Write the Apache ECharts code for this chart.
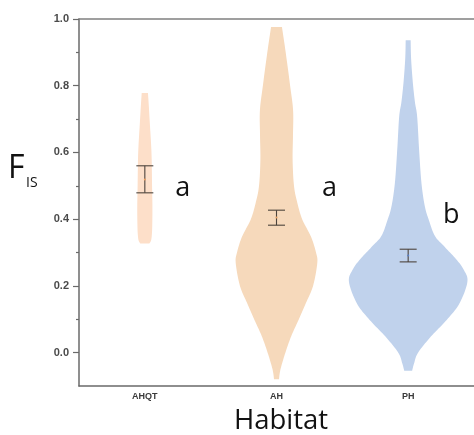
<!DOCTYPE html>
<html><head><meta charset="utf-8">
<script src="https://cdn.jsdelivr.net/npm/echarts@6/dist/echarts.min.js"></script>
<style>html,body{margin:0;padding:0;background:#fff}#c{width:474px;height:435px}</style>
</head><body><div id="c"></div>
<script>
// ---- data ----
const categories = ['AHQT', 'AH', 'PH'];
const yTickValues = [0.0, 0.2, 0.4, 0.6, 0.8, 1.0];
const yMinorTickValues = [0.1, 0.3, 0.5, 0.7, 0.9];
// violin profiles: [F_IS value, relative density]
const densityAHQT = [[0.778,0.053],[0.74,0.067],[0.70,0.08],[0.60,0.112],[0.50,0.122],[0.437,0.128],[0.38,0.125],[0.35,0.117],[0.335,0.103],[0.327,0.075]];
const densityAH = [[0.976,0.092],[0.90,0.155],[0.80,0.23],[0.726,0.28],[0.65,0.278],[0.577,0.272],[0.50,0.295],[0.45,0.35],[0.40,0.433],[0.347,0.583],[0.30,0.667],[0.268,0.688],[0.20,0.617],[0.15,0.5],[0.098,0.372],[0.05,0.25],[0.0,0.15],[-0.05,0.067],[-0.08,0.042]];
const densityPH = [[0.936,0.042],[0.88,0.05],[0.807,0.08],[0.75,0.115],[0.707,0.152],[0.607,0.185],[0.507,0.225],[0.437,0.283],[0.397,0.35],[0.35,0.45],[0.32,0.6],[0.28,0.81],[0.25,0.933],[0.213,1.0],[0.148,0.867],[0.098,0.65],[0.048,0.383],[0.0,0.167],[-0.032,0.1],[-0.054,0.067]];
const meanValues = [0.519, 0.405, 0.291];
const errLow = [0.479, 0.382, 0.272];
const errHigh = [0.560, 0.427, 0.310];
const groupLetters = ['a', 'a', 'b'];

// ---- styles ----
const profiles = [densityAHQT, densityAH, densityPH];
const fillColors = ['#FDDFC9', '#F6D9BB', '#C0D2EC'];
const dotColors = ['#F0A060', '#E8A060', '#5A80C8'];
const axisColor = '#6a6a6a';
const letterStyle = [{dx: 38, y: 0.493}, {dx: 53, y: 0.493}, {dx: 43, y: 0.411}];

const chart = echarts.init(document.getElementById('c'));

// Catmull-Rom resampling of an outline (pixel points)
function catmull(pts, steps) {
  const out = [];
  const n = pts.length;
  for (let i = 0; i < n - 1; i++) {
    const p0 = pts[Math.max(0, i - 1)], p1 = pts[i], p2 = pts[i + 1], p3 = pts[Math.min(n - 1, i + 2)];
    for (let s = 0; s < steps; s++) {
      const t = s / steps, t2 = t * t, t3 = t2 * t;
      const f = (a, b, c, d) => 0.5 * ((2 * b) + (-a + c) * t + (2 * a - 5 * b + 4 * c - d) * t2 + (-a + 3 * b - 3 * c + d) * t3);
      out.push([f(p0[0], p1[0], p2[0], p3[0]), f(p0[1], p1[1], p2[1], p3[1])]);
    }
  }
  out.push(pts[n - 1]);
  return out;
}

function violinItem(params, api) {
  const idx = api.value(0);
  const prof = profiles[idx];
  const band = api.size([1, 0])[0];
  const scale = band * 0.45;
  const right = [];
  let cx = 0;
  prof.forEach(([v, d]) => {
    const p = api.coord([idx, v]);
    cx = p[0];
    right.push([d * scale, p[1]]);
  });
  const smoothRight = catmull(right, 10);
  const pts = smoothRight.map(q => [cx + q[0], q[1]])
    .concat(smoothRight.slice().reverse().map(q => [cx - q[0], q[1]]));
  return {type: 'polygon', shape: {points: pts}, style: {fill: fillColors[idx]}};
}

function errItem(params, api) {
  const idx = api.value(0);
  const lo = api.coord([idx, api.value(1)]);
  const hi = api.coord([idx, api.value(2)]);
  const m = api.coord([idx, api.value(3)]);
  const cap = 8.5;
  const st = {stroke: '#4d443c', lineWidth: 1.1};
  return {type: 'group', children: [
    {type: 'line', shape: {x1: lo[0], y1: lo[1], x2: hi[0], y2: hi[1]}, style: st},
    {type: 'line', shape: {x1: lo[0] - cap, y1: lo[1], x2: lo[0] + cap, y2: lo[1]}, style: st},
    {type: 'line', shape: {x1: hi[0] - cap, y1: hi[1], x2: hi[0] + cap, y2: hi[1]}, style: st},
    {type: 'circle', shape: {cx: m[0], cy: m[1], r: 1}, style: {fill: dotColors[idx]}}
  ]};
}

function letterItem(params, api) {
  const idx = api.value(0);
  const ls = letterStyle[idx];
  const p = api.coord([idx, ls.y]);
  return {type: 'text', x: p[0] + ls.dx, y: p[1], style: {
    text: groupLetters[idx], fill: '#111', font: '27px "Open Sans"', align: 'center', verticalAlign: 'middle'
  }};
}

const option = {
  animation: false,
  backgroundColor: '#fff',
  grid: {left: 79, top: 19, bottom: 49, width: 400},
  xAxis: [
    {type: 'category', data: categories, position: 'bottom',
     axisLine: {show: true, onZero: false, lineStyle: {color: axisColor, width: 1.5}},
     axisTick: {show: false},
     axisLabel: {margin: 6, fontSize: 9, fontWeight: 'bold', color: '#3a3a3a', fontFamily: 'Liberation Sans'}},
    {type: 'category', data: categories, position: 'top',
     axisLine: {show: true, onZero: false, lineStyle: {color: '#808080', width: 1.5}},
     axisTick: {show: false}, axisLabel: {show: false}}
  ],
  yAxis: [
    {type: 'value', min: -0.1, max: 1.0, position: 'left',
     axisLine: {show: true, onZero: false, lineStyle: {color: axisColor, width: 1.5}},
     axisTick: {show: true, length: 6, customValues: yTickValues, lineStyle: {color: axisColor, width: 1.2}},
     axisLabel: {customValues: yTickValues, formatter: v => v.toFixed(1), margin: 10, fontSize: 11, fontWeight: 'bold', color: '#4a4a4a', fontFamily: 'Liberation Sans'},
     splitLine: {show: false}},
    {type: 'value', min: -0.1, max: 1.0, position: 'left',
     axisLine: {show: false, onZero: false},
     axisTick: {show: true, length: 3, customValues: yMinorTickValues, lineStyle: {color: axisColor, width: 1.2}},
     axisLabel: {show: false}, splitLine: {show: false}}
  ],
  graphic: [
    {type: 'text', x: 8, y: 169, style: {text: 'F', font: '32px "Open Sans"', fill: '#111', verticalAlign: 'middle'}},
    {type: 'text', x: 26, y: 183, style: {text: 'IS', font: '14px "Open Sans"', fill: '#111', verticalAlign: 'middle'}},
    {type: 'text', x: 281, y: 421, style: {text: 'Habitat', font: '27.5px "Open Sans"', fill: '#111', align: 'center', verticalAlign: 'middle'}}
  ],
  series: [
    {type: 'custom', renderItem: violinItem, data: categories.map((c, i) => [i]), z: 1},
    {type: 'custom', renderItem: errItem, data: categories.map((c, i) => [i, errLow[i], errHigh[i], meanValues[i]]), z: 2},
    {type: 'custom', renderItem: letterItem, data: categories.map((c, i) => [i]), z: 3}
  ]
};
chart.setOption(option);
</script></body></html>
